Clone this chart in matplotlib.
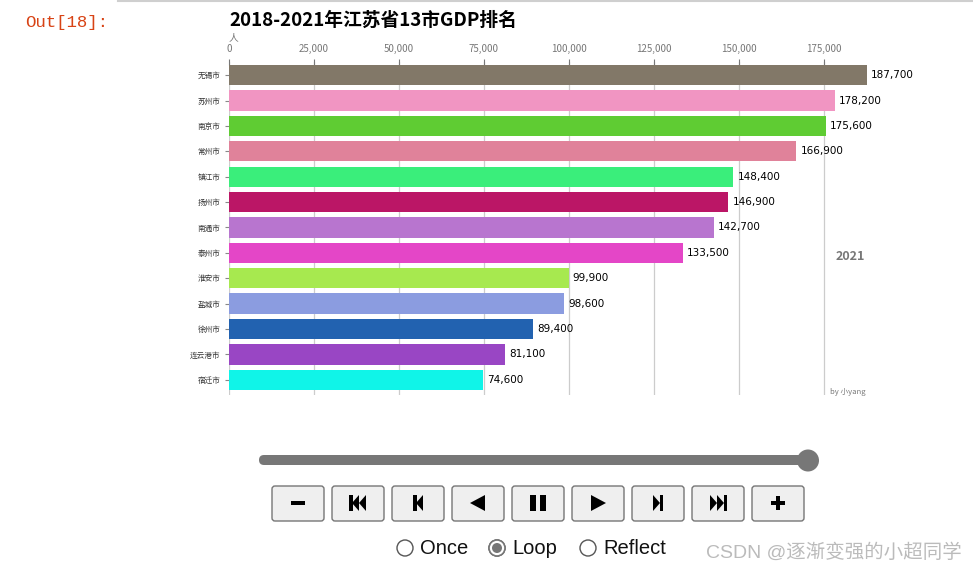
import matplotlib
matplotlib.use("Agg")
import matplotlib.pyplot as plt
from matplotlib.patches import FancyBboxPatch, Circle, Rectangle, Polygon
from matplotlib.ticker import FuncFormatter

plt.rcParams["font.family"] = ["Noto Sans CJK SC", "DejaVu Sans"]

# ---- data (2021 frame) ----
cities = ["无锡市", "苏州市", "南京市", "常州市", "镇江市", "扬州市", "南通市",
          "泰州市", "淮安市", "盐城市", "徐州市", "连云港市", "宿迁市"]
gdp = [187700, 178200, 175600, 166900, 148400, 146900, 142700,
       133500, 99900, 98600, 89400, 81100, 74600]
colors = ["#827868", "#f195c2", "#5fcc33", "#e0829a", "#3aee7b", "#bb1666", "#b875cf",
          "#e446c7", "#a7e94f", "#8b9ce0", "#2262b0", "#9946c4", "#10f4e8"]
year = "2021"
xticks = [0, 25000, 50000, 75000, 100000, 125000, 150000, 175000]

W, H = 973, 573
fig = plt.figure(figsize=(W / 100, H / 100), dpi=100)

# pixel-space overlay for the notebook/widget chrome
ov = fig.add_axes([0, 0, 1, 1], zorder=0)
ov.set_xlim(0, W); ov.set_ylim(H, 0); ov.axis("off")

ov.plot([118, W], [1, 1], color="#cfcfcf", lw=1.5)
ov.text(25, 22, "Out[18]:", color="#d84315", fontsize=12.5,
        family="Liberation Mono", va="center", ha="left")

# ---- bar chart ----
ax = fig.add_axes([229 / W, 1 - 395 / H, (868 - 229) / W, (395 - 62) / H], zorder=2)
ax.patch.set_alpha(0)
pos = list(range(len(cities)))
ax.barh(pos, gdp, height=0.8, color=colors, zorder=3)
for p, v in zip(pos, gdp):
    ax.annotate(f"{v:,}", (v, p), xytext=(3, 0), textcoords="offset points",
                va="center", ha="left", fontsize=7.5, color="black",
                family="DejaVu Sans")
ax.set_xlim(0, 188000)
ax.set_ylim(12.6, -0.52)
ax.set_yticks(pos)
ax.set_yticklabels(cities, fontsize=5.5, color="#333")
ax.set_xticks(xticks)
ax.xaxis.set_major_formatter(FuncFormatter(lambda x, _: f"{int(x):,}"))
ax.xaxis.tick_top()
ax.tick_params(axis="x", labelsize=7, colors="#777", direction="inout",
               length=5, pad=3, width=0.8)
ax.tick_params(axis="y", length=3, color="#888", width=0.8, pad=3)
ax.grid(axis="x", color="#cccccc", lw=0.9, zorder=0)
for s in ax.spines.values():
    s.set_visible(False)

ax.text(0, 1.075, "人", transform=ax.transAxes, fontsize=7, color="#777",
        ha="left", va="center")
ax.text(0, 1.126, "2018-2021年江苏省13市GDP排名", transform=ax.transAxes,
        fontsize=13.5, fontweight="bold", ha="left", va="center")
ax.text(0.996, 0.415, year, transform=ax.transAxes, fontsize=9,
        fontweight="bold", color="#777", ha="right", va="center")
ax.text(0.996, 0.01, "by 小yang", transform=ax.transAxes, fontsize=5.5,
        color="#777", ha="right", va="center")

# ---- animation widget ----
ov.add_patch(FancyBboxPatch((259, 455), 808 - 259, 10,
                            boxstyle="round,pad=0,rounding_size=5",
                            fc="#777777", ec="none"))
ov.add_patch(Circle((808, 460.5), 11, fc="#777777", ec="none"))

cy = 503
for i in range(9):
    cx = 298 + 60 * i
    ov.add_patch(FancyBboxPatch((cx - 26, 486), 52, 35,
                                boxstyle="round,pad=0,rounding_size=3",
                                fc="#efefef", ec="#767676", lw=1))
    k = "black"
    if i == 0:
        ov.add_patch(Rectangle((cx - 7, cy - 2), 14, 4, fc=k))
    elif i == 1:
        ov.add_patch(Rectangle((cx - 9, cy - 8), 3.5, 16, fc=k))
        ov.add_patch(Polygon([(cx - 6, cy), (cx + 1, cy - 8), (cx + 1, cy + 8)], fc=k))
        ov.add_patch(Polygon([(cx + 1, cy), (cx + 8, cy - 8), (cx + 8, cy + 8)], fc=k))
    elif i == 2:
        ov.add_patch(Rectangle((cx - 5, cy - 8), 3.5, 16, fc=k))
        ov.add_patch(Polygon([(cx - 2, cy), (cx + 5, cy - 8), (cx + 5, cy + 8)], fc=k))
    elif i == 3:
        ov.add_patch(Polygon([(cx - 8, cy), (cx + 7, cy - 8), (cx + 7, cy + 8)], fc=k))
    elif i == 4:
        ov.add_patch(Rectangle((cx - 8, cy - 8), 6, 16, fc=k))
        ov.add_patch(Rectangle((cx + 2, cy - 8), 6, 16, fc=k))
    elif i == 5:
        ov.add_patch(Polygon([(cx + 8, cy), (cx - 7, cy - 8), (cx - 7, cy + 8)], fc=k))
    elif i == 6:
        ov.add_patch(Polygon([(cx + 2, cy), (cx - 5, cy - 8), (cx - 5, cy + 8)], fc=k))
        ov.add_patch(Rectangle((cx + 1.5, cy - 8), 3.5, 16, fc=k))
    elif i == 7:
        ov.add_patch(Polygon([(cx - 1, cy), (cx - 8, cy - 8), (cx - 8, cy + 8)], fc=k))
        ov.add_patch(Polygon([(cx + 6, cy), (cx - 1, cy - 8), (cx - 1, cy + 8)], fc=k))
        ov.add_patch(Rectangle((cx + 5.5, cy - 8), 3.5, 16, fc=k))
    else:
        ov.add_patch(Rectangle((cx - 7, cy - 2), 14, 4, fc=k))
        ov.add_patch(Rectangle((cx - 2, cy - 7), 4, 14, fc=k))

modes = [("Once", 405), ("Loop", 497), ("Reflect", 588)]
for name, x in modes:
    ov.add_patch(Circle((x, 548), 8, fc="white", ec="#555555", lw=1))
    if name == "Loop":
        ov.add_patch(Circle((x, 548), 8, fc="white", ec="#777777", lw=1.2))
        ov.add_patch(Circle((x, 548), 5, fc="#777777", ec="none"))
    ov.text(x + 15, 548, name, fontsize=14.5, family="Liberation Sans",
            va="center", ha="left", color="#111")

ov.text(706, 553, "CSDN @逐渐变强的小超同学", fontsize=14, color="#bbbbbb",
        family=["Liberation Sans", "Noto Sans CJK SC"], va="center", ha="left")

fig.savefig("out.png", dpi=100)
